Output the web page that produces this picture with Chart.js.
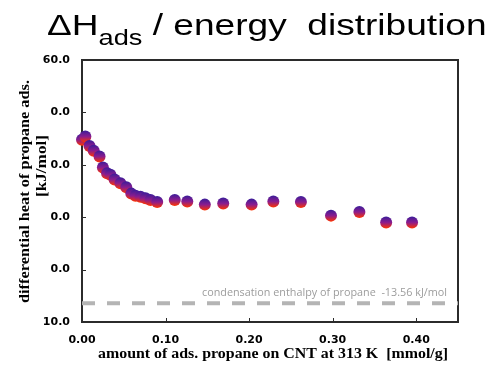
<!DOCTYPE html>
<html>
<head>
<meta charset="utf-8">
<script src="https://cdn.jsdelivr.net/npm/chart.js@4.4.1/dist/chart.umd.min.js"></script>
<style>
  html, body { margin: 0; padding: 0; background: #fff; }
  #wrap { position: relative; width: 489px; height: 368px; }
  #graph { position: absolute; left: 0; top: 0; }
  #title {
    position: absolute; left: 47px; top: 10px;
    font-family: 'Liberation Sans', Arial, sans-serif;
    font-size: 30px; line-height: 30px; color: #000;
    white-space: pre; transform-origin: 0 0;
  }
  #title sub { font-size: 22px; line-height: 0; vertical-align: -10px; }
</style>
</head>
<body>
<div id="wrap">
  <canvas id="graph" width="489" height="368"></canvas>
  <div id="title">ΔH<sub>ads</sub> / energy  distribution</div>
</div>
<script>
// amount adsorbed [mmol/g] and differential heat [kJ/mol]
const loading = [0.000, 0.004, 0.009, 0.014, 0.021, 0.025, 0.030, 0.034, 0.039, 0.046,
                 0.053, 0.059, 0.064, 0.070, 0.076, 0.082, 0.090, 0.111, 0.126, 0.147,
                 0.169, 0.203, 0.229, 0.262, 0.298, 0.332, 0.364, 0.395];
const heat = [44.8, 45.4, 43.6, 42.7, 41.6, 39.5, 38.4, 38.1, 37.2, 36.5,
              35.7, 34.5, 34.1, 33.9, 33.6, 33.3, 32.9, 33.3, 33.0, 32.4,
              32.6, 32.4, 33.0, 32.9, 30.3, 31.0, 29.0, 29.0];
const condensation = 13.56;
const condensationRange = [0, 0.45];
const xTickValues = [0, 0.1, 0.2, 0.3, 0.4];
const yTickValues = [10, 20, 30, 40, 50, 60];
const condLabel = 'condensation enthalpy of propane  -13.56 kJ/mol';
const yTitle = ['differential heat of propane ads.', '[kJ/mol]'];
const xTitle = 'amount of ads. propane on CNT at 313 K  [mmol/g]';

// stretch the title to the width it has in the picture
const ttl = document.getElementById('title');
ttl.style.transform = 'scaleX(' + (440 / ttl.offsetWidth) + ')';

const dotR = 6;
const dotFill = (c) => {
  const chart = c.chart;
  if (!c.parsed || !chart.scales || !chart.scales.y) return '#7a1f8a';
  const py = chart.scales.y.getPixelForValue(c.parsed.y);
  if (!isFinite(py)) return '#7a1f8a';
  const g = chart.ctx.createLinearGradient(0, py - dotR, 0, py + dotR);
  g.addColorStop(0, '#3a1d99');
  g.addColorStop(0.5, '#8a1c8e');
  g.addColorStop(1, '#ff3300');
  return g;
};

// draw text squeezed/stretched to a given width
function fitText(ctx, text, cx, cy, w, font, rot, color) {
  ctx.save();
  ctx.translate(cx, cy);
  ctx.rotate(rot);
  ctx.font = font;
  const m = ctx.measureText(text).width;
  ctx.scale(w / m, 1);
  ctx.fillStyle = color;
  ctx.textAlign = 'center';
  ctx.textBaseline = 'middle';
  ctx.fillText(text, 0, 0);
  ctx.restore();
}

const framePlugin = {
  id: 'frame',
  beforeDatasetsDraw(chart) {
    const ctx = chart.ctx;
    const a = chart.chartArea;
    const xs = chart.scales.x, ys = chart.scales.y;
    ctx.save();
    ctx.strokeStyle = '#2b2b2b';
    ctx.lineWidth = 2;
    ctx.strokeRect(a.left, a.top, a.right - a.left, a.bottom - a.top);
    ctx.lineWidth = 1;
    ctx.beginPath();
    xTickValues.slice(1).forEach(v => {
      const px = Math.round(xs.getPixelForValue(v)) + 0.5;
      ctx.moveTo(px, a.bottom); ctx.lineTo(px, a.bottom - 4);
    });
    yTickValues.slice(1, -1).forEach(v => {
      const py = Math.round(ys.getPixelForValue(v)) + 0.5;
      ctx.moveTo(a.left, py); ctx.lineTo(a.left + 4, py);
    });
    ctx.stroke();
    fitText(ctx, condLabel, 324.5, 293.5, 245, '10px "Open Sans"', 0, '#9c9c9c');
    ctx.restore();
  },
  afterDraw(chart) {
    const ctx = chart.ctx;
    ctx.save();
    ctx.fillStyle = '#fff';
    ctx.fillRect(8, 76, 43, 232);
    fitText(ctx, yTitle[0], 25, 191.5, 223, 'bold 14px "Liberation Serif"', -Math.PI / 2, '#000');
    fitText(ctx, yTitle[1], 42, 166, 62, 'bold 14px "Liberation Serif"', -Math.PI / 2, '#000');
    fitText(ctx, xTitle, 273, 354, 350, 'bold 14.5px "Liberation Serif"', 0, '#000');
    ctx.restore();
  }
};

const ctx = document.getElementById('graph').getContext('2d');
const myChart = new Chart(ctx, {
  type: 'scatter',
  data: {
    datasets: [{
      label: 'heat',
      data: loading.map((x, i) => ({ x: x, y: heat[i] })),
      pointRadius: dotR,
      pointBorderWidth: 0,
      pointBackgroundColor: dotFill,
      clip: false
    }, {
      label: 'condensation',
      type: 'line',
      data: condensationRange.map(x => ({ x: x, y: condensation })),
      borderColor: '#b4b4b4',
      borderWidth: 4,
      borderDash: [13, 12],
      pointRadius: 0,
      order: 2
    }]
  },
  options: {
    responsive: false,
    animation: false,
    devicePixelRatio: 1,
    layout: { padding: { left: 0, right: 31, top: 60, bottom: 0 } },
    plugins: { legend: { display: false }, tooltip: { enabled: false } },
    scales: {
      x: {
        type: 'linear', min: 0, max: 0.45,
        afterBuildTicks: s => { s.ticks = xTickValues.map(v => ({ value: v })); },
        afterFit: s => { s.height = 46; },
        grid: { display: false, drawTicks: false },
        border: { display: false },
        ticks: {
          padding: 12, color: '#000',
          font: { family: 'DejaVu Sans', weight: 'bold', size: 11 },
          callback: v => v.toFixed(2)
        }
      },
      y: {
        min: 10, max: 60,
        afterBuildTicks: s => { s.ticks = yTickValues.map(v => ({ value: v })); },
        afterFit: s => { s.width = 82; },
        grid: { display: false, drawTicks: false },
        border: { display: false },
        ticks: {
          padding: 12, color: '#000',
          font: { family: 'DejaVu Sans', weight: 'bold', size: 11 },
          callback: v => v.toFixed(1)
        }
      }
    }
  },
  plugins: [framePlugin]
});
</script>
</body>
</html>
